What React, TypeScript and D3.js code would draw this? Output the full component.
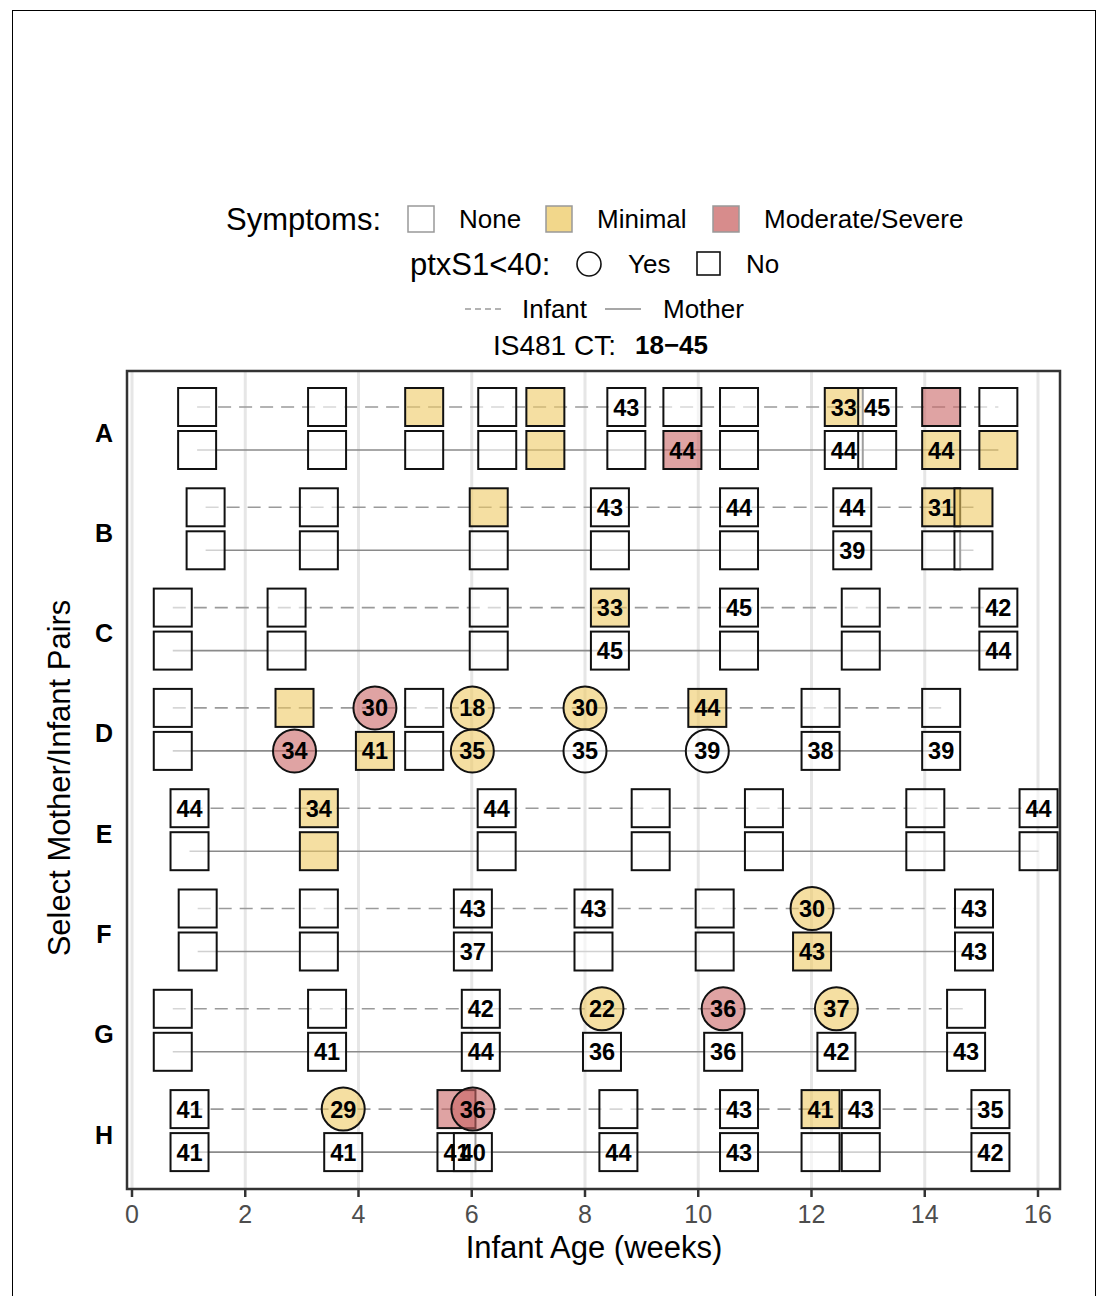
import React from "react";
import * as d3 from "d3";

type Sym = "N" | "M" | "S";
// [week, infantSymptom, infantPtxLow, infantCT, motherSymptom, motherPtxLow, motherCT]
type Visit = [number, Sym, boolean, number | null, Sym, boolean, number | null];

const pairs = ["A", "B", "C", "D", "E", "F", "G", "H"];
const xTicks = [0, 2, 4, 6, 8, 10, 12, 14, 16];

const visitsA: Visit[] = [
  [1.15, "N", false, null, "N", false, null],
  [3.445, "N", false, null, "N", false, null],
  [5.16, "M", false, null, "N", false, null],
  [6.45, "N", false, null, "N", false, null],
  [7.3, "M", false, null, "M", false, null],
  [8.73, "N", false, 43, "N", false, null],
  [9.72, "N", false, null, "S", false, 44],
  [10.72, "N", false, null, "N", false, null],
  [12.57, "M", false, 33, "N", false, 44],
  [13.16, "N", false, 45, "N", false, null],
  [14.29, "S", false, null, "M", false, 44],
  [15.3, "N", false, null, "M", false, null],
];
const visitsB: Visit[] = [
  [1.3, "N", false, null, "N", false, null],
  [3.3, "N", false, null, "N", false, null],
  [6.3, "M", false, null, "N", false, null],
  [8.44, "N", false, 43, "N", false, null],
  [10.72, "N", false, 44, "N", false, null],
  [12.72, "N", false, 44, "N", false, 39],
  [14.29, "M", false, 31, "N", false, null],
  [14.86, "M", false, null, "N", false, null],
];
const visitsC: Visit[] = [
  [0.72, "N", false, null, "N", false, null],
  [2.73, "N", false, null, "N", false, null],
  [6.3, "N", false, null, "N", false, null],
  [8.44, "M", false, 33, "N", false, 45],
  [10.72, "N", false, 45, "N", false, null],
  [12.87, "N", false, null, "N", false, null],
  [15.3, "N", false, 42, "N", false, 44],
];
const visitsD: Visit[] = [
  [0.72, "N", false, null, "N", false, null],
  [2.87, "M", false, null, "S", true, 34],
  [4.29, "S", true, 30, "M", false, 41],
  [5.16, "N", false, null, "N", false, null],
  [6.01, "M", true, 18, "M", true, 35],
  [8.0, "M", true, 30, "N", true, 35],
  [10.16, "M", false, 44, "N", true, 39],
  [12.16, "N", false, null, "N", false, 38],
  [14.29, "N", false, null, "N", false, 39],
];
const visitsE: Visit[] = [
  [1.016, "N", false, 44, "N", false, null],
  [3.3, "M", false, 34, "M", false, null],
  [6.44, "N", false, 44, "N", false, null],
  [9.16, "N", false, null, "N", false, null],
  [11.16, "N", false, null, "N", false, null],
  [14.01, "N", false, null, "N", false, null],
  [16.01, "N", false, 44, "N", false, null],
];
const visitsF: Visit[] = [
  [1.16, "N", false, null, "N", false, null],
  [3.3, "N", false, null, "N", false, null],
  [6.02, "N", false, 43, "N", false, 37],
  [8.15, "N", false, 43, "N", false, null],
  [10.29, "N", false, null, "N", false, null],
  [12.01, "M", true, 30, "M", false, 43],
  [14.87, "N", false, 43, "N", false, 43],
];
const visitsG: Visit[] = [
  [0.72, "N", false, null, "N", false, null],
  [3.445, "N", false, null, "N", false, 41],
  [6.16, "N", false, 42, "N", false, 44],
  [8.3, "M", true, 22, "N", false, 36],
  [10.44, "S", true, 36, "N", false, 36],
  [12.44, "M", true, 37, "N", false, 42],
  [14.73, "N", false, null, "N", false, 43],
];
const visitsH: Visit[] = [
  [1.016, "N", false, 41, "N", false, 41],
  [3.73, "M", true, 29, "N", false, 41],
  [5.73, "S", false, null, "N", false, 41],
  [6.02, "S", true, 36, "N", false, 40],
  [8.59, "N", false, null, "N", false, 44],
  [10.72, "N", false, 43, "N", false, 43],
  [12.16, "M", false, 41, "N", false, null],
  [12.87, "N", false, 43, "N", false, null],
  [15.16, "N", false, 35, "N", false, 42],
];

const visitsByPair: Visit[][] = [visitsA, visitsB, visitsC, visitsD, visitsE, visitsF, visitsG, visitsH];

const symptomColor: Record<Sym, string> = { N: "#FFFFFF", M: "#EECA64", S: "#CA6666" };

const FONT = "'Liberation Sans', Arial, Helvetica, sans-serif";

export default function App() {
  const panel = { left: 127, right: 1060, top: 371, bottom: 1189 };
  const x = d3.scaleLinear().domain([0, 16]).range([132, 1038]);
  const y = d3.scalePoint<string>().domain(pairs).range([428.5, 1130.6]);
  const off = 21.5;
  const half = 19;
  const rad = 21.5;

  const lines: React.ReactNode[] = [];
  const shapes: React.ReactNode[] = [];
  const labels: React.ReactNode[] = [];

  pairs.forEach((p, pi) => {
    const vs = visitsByPair[pi];
    const cy = y(p)!;
    const wk = vs.map((v) => v[0]);
    const x0 = x(d3.min(wk)!);
    const x1 = x(d3.max(wk)!);
    lines.push(
      <line key={"li" + p} x1={x0} x2={x1} y1={cy - off} y2={cy - off} stroke="#9a9a9a" strokeWidth={1.6} strokeDasharray="13,8" />,
      <line key={"lm" + p} x1={x0} x2={x1} y1={cy + off} y2={cy + off} stroke="#8a8a8a" strokeWidth={1.6} />
    );
    const who: [number, number][] = [
      [1, -off],
      [4, off],
    ];
    vs.forEach((v, vi) => {
      who.forEach(([idx, dy]) => {
        const sym = v[idx] as Sym;
        const circ = v[idx + 1] as boolean;
        const ct = v[idx + 2] as number | null;
        const cx = x(v[0]);
        const yy = cy + dy;
        const k = `${p}-${vi}-${idx}`;
        if (circ) {
          shapes.push(
            <circle key={k} cx={cx} cy={yy} r={rad} fill={symptomColor[sym]} fillOpacity={0.6} stroke="#111" strokeWidth={2} />
          );
        } else {
          shapes.push(
            <rect key={k} x={cx - half} y={yy - half} width={half * 2} height={half * 2} fill={symptomColor[sym]} fillOpacity={0.6} stroke="#111" strokeWidth={2} />
          );
        }
        if (ct !== null) {
          labels.push(
            <text key={"t" + k} x={cx} y={yy + 8.5} textAnchor="middle" fontFamily={FONT} fontWeight="bold" fontSize={23.5} fill="#000">
              {ct}
            </text>
          );
        }
      });
    });
  });

  return (
    <svg width={1099} height={1296} style={{ position: "absolute", left: 0, top: 0, background: "#fff" }}>
      <rect x={0} y={0} width={1099} height={1296} fill="#fff" />
      <rect x={12.5} y={10.5} width={1083} height={1300} fill="none" stroke="#000" strokeWidth={1} />

      {/* legend */}
      <g fontFamily={FONT} fill="#000">
        <text x={226} y={230} fontSize={31}>Symptoms:</text>
        <rect x={408} y={206} width={26} height={26} fill="#fff" stroke="#999" strokeWidth={1.5} />
        <text x={459} y={228} fontSize={26}>None</text>
        <rect x={546} y={206} width={26} height={26} fill={symptomColor.M} fillOpacity={0.75} stroke="#999" strokeWidth={1.5} />
        <text x={597} y={228} fontSize={26}>Minimal</text>
        <rect x={713} y={206} width={26} height={26} fill={symptomColor.S} fillOpacity={0.75} stroke="#999" strokeWidth={1.5} />
        <text x={764} y={228} fontSize={26}>Moderate/Severe</text>

        <text x={410} y={275} fontSize={31}>ptxS1&lt;40:</text>
        <circle cx={589} cy={264} r={12} fill="#fff" stroke="#111" strokeWidth={1.6} />
        <text x={628} y={273} fontSize={26}>Yes</text>
        <rect x={697} y={252} width={23} height={23} fill="#fff" stroke="#111" strokeWidth={1.6} />
        <text x={746} y={273} fontSize={26}>No</text>

        <line x1={465} x2={501} y1={309} y2={309} stroke="#9a9a9a" strokeWidth={1.6} strokeDasharray="6,4" />
        <text x={522} y={318} fontSize={26}>Infant</text>
        <line x1={605} x2={641} y1={309} y2={309} stroke="#8a8a8a" strokeWidth={1.6} />
        <text x={663} y={318} fontSize={26}>Mother</text>

        <text x={493} y={355} fontSize={28}>IS481 CT:</text>
        <text x={635} y={354} fontSize={26} fontWeight="bold">18−45</text>
      </g>

      {/* grid */}
      {xTicks.map((t) => (
        <line key={"g" + t} x1={x(t)} x2={x(t)} y1={panel.top} y2={panel.bottom} stroke="#e6e6e6" strokeWidth={3} />
      ))}

      {lines}
      {shapes}
      {labels}

      <rect x={panel.left} y={panel.top} width={panel.right - panel.left} height={panel.bottom - panel.top} fill="none" stroke="#333" strokeWidth={2.5} />

      {/* x axis */}
      {xTicks.map((t) => (
        <g key={"xt" + t}>
          <line x1={x(t)} x2={x(t)} y1={panel.bottom} y2={panel.bottom + 8} stroke="#333" strokeWidth={2.5} />
          <text x={x(t)} y={panel.bottom + 34} textAnchor="middle" fontFamily={FONT} fontSize={25} fill="#4d4d4d">
            {t}
          </text>
        </g>
      ))}
      <text x={594} y={1258} textAnchor="middle" fontFamily={FONT} fontSize={31} fill="#000">
        Infant Age (weeks)
      </text>

      {/* y axis */}
      {pairs.map((p) => (
        <text key={"yl" + p} x={104} y={y(p)! + 13} textAnchor="middle" fontFamily={FONT} fontWeight="bold" fontSize={25} fill="#000">
          {p}
        </text>
      ))}
      <text
        transform={`translate(70, 778) rotate(-90)`}
        textAnchor="middle"
        fontFamily={FONT}
        fontSize={31}
        fill="#000"
      >
        Select Mother/Infant Pairs
      </text>
    </svg>
  );
}
